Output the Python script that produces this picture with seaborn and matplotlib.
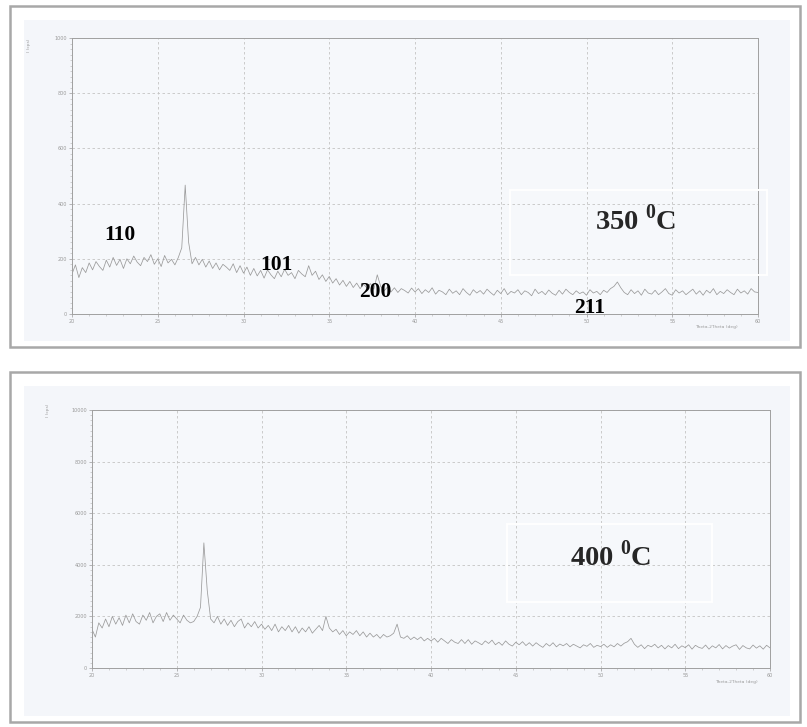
import numpy as np
import pandas as pd
import matplotlib
matplotlib.use("Agg")
import matplotlib.pyplot as plt
import seaborn as sns
from matplotlib.patches import Rectangle
from matplotlib.ticker import MultipleLocator

# ---------------- data ----------------
two_theta = np.round(np.arange(20.0, 60.0001, 0.2), 1)

intensity_350 = [
    145, 178, 132, 168, 150, 185, 160, 190, 172, 158,
    195, 170, 205, 176, 198, 165, 200, 182, 210, 188,
    175, 205, 190, 215, 180, 200, 172, 212, 185, 198,
    178, 205, 240, 467, 260, 182, 205, 178, 198, 170,
    192, 165, 185, 160, 180, 170, 158, 182, 150, 175,
    148, 170, 140, 165, 138, 158, 130, 160, 142, 128,
    155, 135, 162, 140, 150, 128, 158, 145, 135, 175,
    140, 155, 125, 142, 118, 136, 112, 128, 105, 122,
    100, 118, 96, 112, 92, 108, 95, 110, 90, 142,
    100, 84, 98, 80, 95, 78, 92, 85, 76, 94,
    80, 92, 74, 88, 78, 95, 72, 86, 80, 70,
    90, 75, 84, 70, 92, 78, 68, 88, 76, 85,
    72, 90, 78, 68, 86, 74, 92, 70, 82, 76,
    88, 70, 84, 78, 66, 90, 74, 82, 70, 87,
    75, 68, 86, 72, 90, 78, 70, 84, 74, 80,
    68, 88, 76, 82, 70, 86, 78, 92, 100, 116,
    95, 78, 70, 88, 74, 84, 68, 90, 76, 72,
    86, 70, 80, 92, 74, 68, 88, 76, 84, 70,
    80, 90, 72, 84, 68, 86, 76, 92, 70, 82,
    74, 88, 78, 70, 90, 76, 84, 72, 92, 80,
    78,
]

intensity_400 = [
    1500, 1200, 1750, 1550, 1900, 1600, 2000, 1700, 1950, 1650,
    2050, 1750, 2100, 1800, 1700, 2050, 1850, 2150, 1750, 2000,
    2100, 1800, 2150, 1850, 2050, 1900, 1750, 2050, 1850, 1750,
    1800, 2000, 2350, 4850, 3000, 1900, 1750, 2000, 1700, 1900,
    1650, 1850, 1600, 1800, 1900, 1550, 1750, 1600, 1800, 1550,
    1700, 1500, 1650, 1450, 1700, 1400, 1600, 1450, 1650, 1400,
    1600, 1350, 1550, 1400, 1600, 1350, 1500, 1650, 1450, 2000,
    1550, 1400, 1500, 1300, 1450, 1250, 1400, 1300, 1450, 1250,
    1400, 1200, 1350, 1200, 1300, 1150, 1300, 1200, 1250, 1350,
    1700, 1200, 1150, 1250, 1100, 1200, 1100, 1200, 1050, 1150,
    1050, 1150, 1000, 1150, 1050, 950, 1100, 1000, 950, 1100,
    950, 1100, 920, 1050, 980, 900, 1050, 950, 1080, 900,
    1000, 880, 1050, 920, 850, 1000, 900, 1020, 870, 980,
    850, 980, 880, 800, 950, 850, 980, 820, 930, 860,
    950, 820, 920, 850, 780, 900, 840, 950, 800, 880,
    830, 920, 800, 900, 820, 950, 850, 960, 1020, 1150,
    920, 800, 900, 750, 880, 820, 920, 780, 880, 740,
    870, 780, 920, 750, 860, 790, 900, 730, 880, 800,
    760, 890, 730, 860, 780, 910, 740, 870, 770, 850,
    900, 720, 870, 780, 740, 890, 770, 860, 730, 880,
    780,
]

x_ticks = [20, 25, 30, 35, 40, 45, 50, 55, 60]
y_ticks_350 = [0, 200, 400, 600, 800, 1000]
y_ticks_400 = [0, 2000, 4000, 6000, 8000, 10000]

peak_labels = ["110", "101", "200", "211"]
peak_label_x = [22.8, 31.9, 37.7, 50.2]
peak_label_y = [286, 178, 80, 22]

temps = ["350", "400"]

# ---------------- style ----------------
sns.set_style("white")
plt.rcParams["font.family"] = ["DejaVu Sans"]
plt.rcParams["mathtext.fontset"] = "custom"
plt.rcParams["mathtext.rm"] = "Liberation Serif"
plt.rcParams["mathtext.bf"] = "Liberation Serif:bold"

W, H = 807, 727
fig = plt.figure(figsize=(W / 100, H / 100), dpi=100)
fig.patch.set_facecolor("white")


def fx(px):
    return px / W


def fy(py):
    return 1 - py / H


# scanned page backgrounds and frames (drawn underneath the axes)
for (x0, y0, x1, y1) in [(10, 6, 800, 347), (10, 372, 800, 722)]:
    fig.patches.append(Rectangle((fx(x0 + 14), fy(y1 - 6)), fx(x1 - x0 - 24), (y1 - y0 - 20) / H,
                                 transform=fig.transFigure, facecolor="#f4f6fa",
                                 edgecolor="none", zorder=-2))
    fig.patches.append(Rectangle((fx(x0), fy(y1)), fx(x1 - x0), (y1 - y0) / H,
                                 transform=fig.transFigure, facecolor="none",
                                 edgecolor="#a8a8a8", lw=1.8, zorder=-1))

df350 = pd.DataFrame({"two_theta": two_theta, "I": intensity_350})
df400 = pd.DataFrame({"two_theta": two_theta, "I": intensity_400})

ax1 = fig.add_axes([fx(72), fy(314), fx(758 - 72), (314 - 38) / H])
ax2 = fig.add_axes([fx(92), fy(668), fx(770 - 92), (668 - 410) / H])

for ax, df, yt in [(ax1, df350, y_ticks_350), (ax2, df400, y_ticks_400)]:
    ax.set_zorder(2)
    ax.set_facecolor("#f6f8fb")
    sns.lineplot(data=df, x="two_theta", y="I", ax=ax, color="#9a9a9a", lw=0.55)
    ax.set_xlim(x_ticks[0], x_ticks[-1])
    ax.set_ylim(yt[0], yt[-1])
    ax.set_xticks(x_ticks)
    ax.set_yticks(yt)
    ax.xaxis.set_minor_locator(MultipleLocator(1))
    ax.yaxis.set_minor_locator(MultipleLocator((yt[1] - yt[0]) / 10))
    ax.tick_params(axis="both", which="major", labelsize=3.5, labelcolor="#9a9a9a",
                   color="#9a9a9a", length=2, width=0.5, pad=1.5, bottom=True, left=True)
    ax.tick_params(axis="both", which="minor", color="#b0b0b0", length=1.2, width=0.4,
                   bottom=True, left=True)
    ax.grid(True, which="major", ls=(0, (3, 3)), color="#c4c4c4", lw=0.6)
    for s in ax.spines.values():
        s.set_color("#a0a0a0")
        s.set_linewidth(0.7)
    ax.set_xlabel("")
    ax.set_ylabel("")

for lab, lx, ly in zip(peak_labels, peak_label_x, peak_label_y):
    ax1.text(lx, ly, lab, ha="center", va="center", fontsize=15.5,
             family="Liberation Serif", fontweight="bold", color="black")

# temperature boxes
for (x0, y0, x1, y1), (tx, ty), t in [((510, 190, 767, 275), (636, 220), temps[0]),
                                      ((507, 524, 712, 602), (611, 556), temps[1])]:
    fig.patches.append(Rectangle((fx(x0), fy(y1)), fx(x1 - x0), (y1 - y0) / H,
                                 transform=fig.transFigure, facecolor="none",
                                 edgecolor="white", lw=1.4, zorder=5))
    fig.text(fx(tx), fy(ty), t + r" $^{\mathbf{0}}$C", ha="center", va="center",
             fontsize=20.5, family="Liberation Serif", fontweight="bold", zorder=6)

# axis captions (tiny scanned text)
fig.text(fx(716), fy(327), "Theta-2Theta (deg)", fontsize=3.2, color="#9a9a9a",
         ha="center", va="center")
fig.text(fx(736), fy(682), "Theta-2Theta (deg)", fontsize=3.2, color="#9a9a9a",
         ha="center", va="center")
fig.text(fx(29), fy(45), "I (cps)", fontsize=3.2, color="#9a9a9a", rotation=90,
         ha="center", va="center")
fig.text(fx(48), fy(410), "I (cps)", fontsize=3.2, color="#9a9a9a", rotation=90,
         ha="center", va="center")

fig.savefig("out.png", dpi=100)
